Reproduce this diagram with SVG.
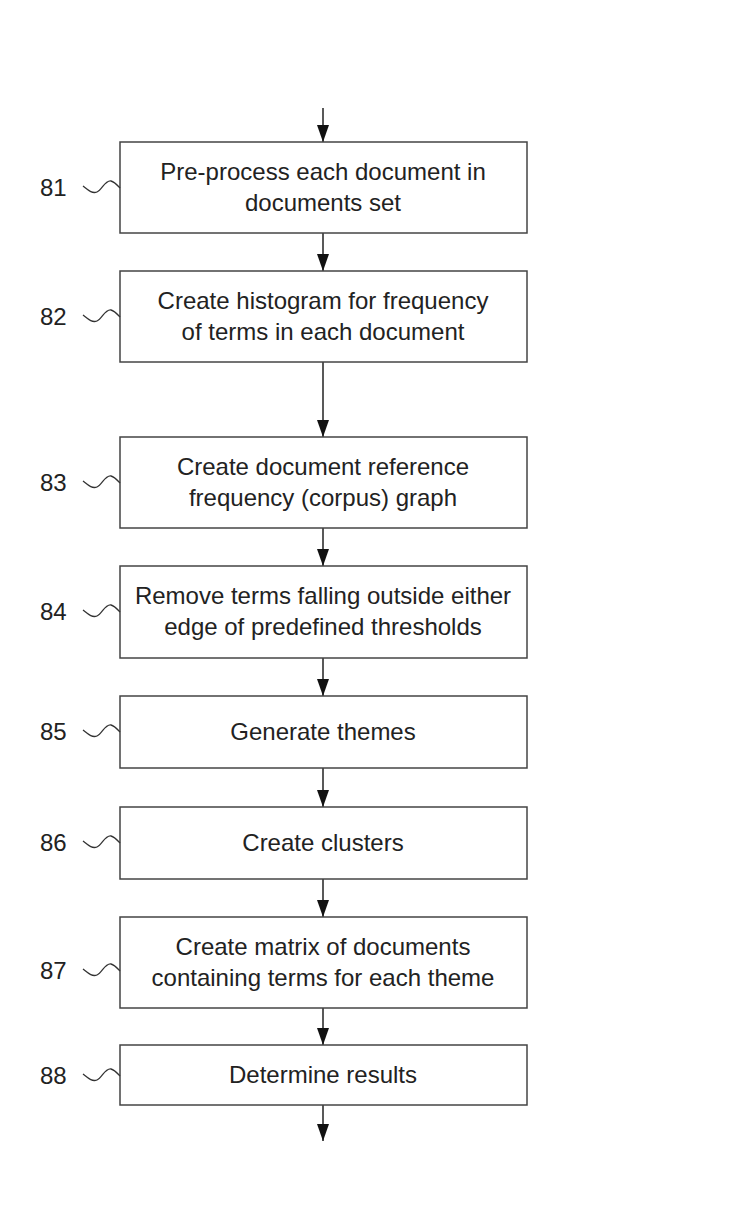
<svg xmlns="http://www.w3.org/2000/svg" width="735" height="1216" viewBox="0 0 735 1216">
<style>
.box{fill:#fff;stroke:#444;stroke-width:1.5}
.t{font-family:"Liberation Sans",Arial,sans-serif;font-size:24px;fill:#222;text-anchor:middle}
.n{font-family:"Liberation Sans",Arial,sans-serif;font-size:24px;fill:#222;text-anchor:start}
.sq{fill:none;stroke:#333;stroke-width:1.3}
.c{stroke:#222;stroke-width:1.5;fill:none;marker-end:url(#ah)}
</style>
<defs>
<marker id="ah" markerWidth="18" markerHeight="12" refX="17" refY="6" orient="auto" markerUnits="userSpaceOnUse" viewBox="0 0 18 12">
<path d="M0,0 L17,6 L0,12 Z" fill="#111"/>
</marker>
</defs>
<rect width="735" height="1216" fill="#fff"/>
<g id="connectors">
<line class="c" x1="323" y1="108" x2="323" y2="142"/>
<line class="c" x1="323" y1="233" x2="323" y2="271"/>
<line class="c" x1="323" y1="362" x2="323" y2="437"/>
<line class="c" x1="323" y1="528" x2="323" y2="566"/>
<line class="c" x1="323" y1="658" x2="323" y2="696"/>
<line class="c" x1="323" y1="768" x2="323" y2="807"/>
<line class="c" x1="323" y1="879" x2="323" y2="917"/>
<line class="c" x1="323" y1="1008" x2="323" y2="1045"/>
<line class="c" x1="323" y1="1105" x2="323" y2="1141"/>
</g>
<g id="n81">
<rect class="box" x="120" y="142" width="407" height="91"/>
<text class="t" x="323" y="180">Pre-process each document in</text>
<text class="t" x="323" y="211">documents set</text>
<text class="n" x="40" y="196">81</text>
<path class="sq" d="M83,186 C88,190 92,194 97,192 C102,190 105,180 111,181 C115,182 118,186 120,188"/>
</g>
<g id="n82">
<rect class="box" x="120" y="271" width="407" height="91"/>
<text class="t" x="323" y="309">Create histogram for frequency</text>
<text class="t" x="323" y="340">of terms in each document</text>
<text class="n" x="40" y="325">82</text>
<path class="sq" d="M83,315 C88,319 92,323 97,321 C102,319 105,309 111,310 C115,311 118,315 120,317"/>
</g>
<g id="n83">
<rect class="box" x="120" y="437" width="407" height="91"/>
<text class="t" x="323" y="475">Create document reference</text>
<text class="t" x="323" y="506">frequency (corpus) graph</text>
<text class="n" x="40" y="491">83</text>
<path class="sq" d="M83,481 C88,485 92,489 97,487 C102,485 105,475 111,476 C115,477 118,481 120,483"/>
</g>
<g id="n84">
<rect class="box" x="120" y="566" width="407" height="92"/>
<text class="t" x="323" y="604">Remove terms falling outside either</text>
<text class="t" x="323" y="635">edge of predefined thresholds</text>
<text class="n" x="40" y="620">84</text>
<path class="sq" d="M83,610 C88,614 92,618 97,616 C102,614 105,604 111,605 C115,606 118,610 120,612"/>
</g>
<g id="n85">
<rect class="box" x="120" y="696" width="407" height="72"/>
<text class="t" x="323" y="740">Generate themes</text>
<text class="n" x="40" y="740">85</text>
<path class="sq" d="M83,730 C88,734 92,738 97,736 C102,734 105,724 111,725 C115,726 118,730 120,732"/>
</g>
<g id="n86">
<rect class="box" x="120" y="807" width="407" height="72"/>
<text class="t" x="323" y="851">Create clusters</text>
<text class="n" x="40" y="851">86</text>
<path class="sq" d="M83,841 C88,845 92,849 97,847 C102,845 105,835 111,836 C115,837 118,841 120,843"/>
</g>
<g id="n87">
<rect class="box" x="120" y="917" width="407" height="91"/>
<text class="t" x="323" y="955">Create matrix of documents</text>
<text class="t" x="323" y="986">containing terms for each theme</text>
<text class="n" x="40" y="979">87</text>
<path class="sq" d="M83,969 C88,973 92,977 97,975 C102,973 105,963 111,964 C115,965 118,969 120,971"/>
</g>
<g id="n88">
<rect class="box" x="120" y="1045" width="407" height="60"/>
<text class="t" x="323" y="1083">Determine results</text>
<text class="n" x="40" y="1084">88</text>
<path class="sq" d="M83,1074 C88,1078 92,1082 97,1080 C102,1078 105,1068 111,1069 C115,1070 118,1074 120,1076"/>
</g>
</svg>
